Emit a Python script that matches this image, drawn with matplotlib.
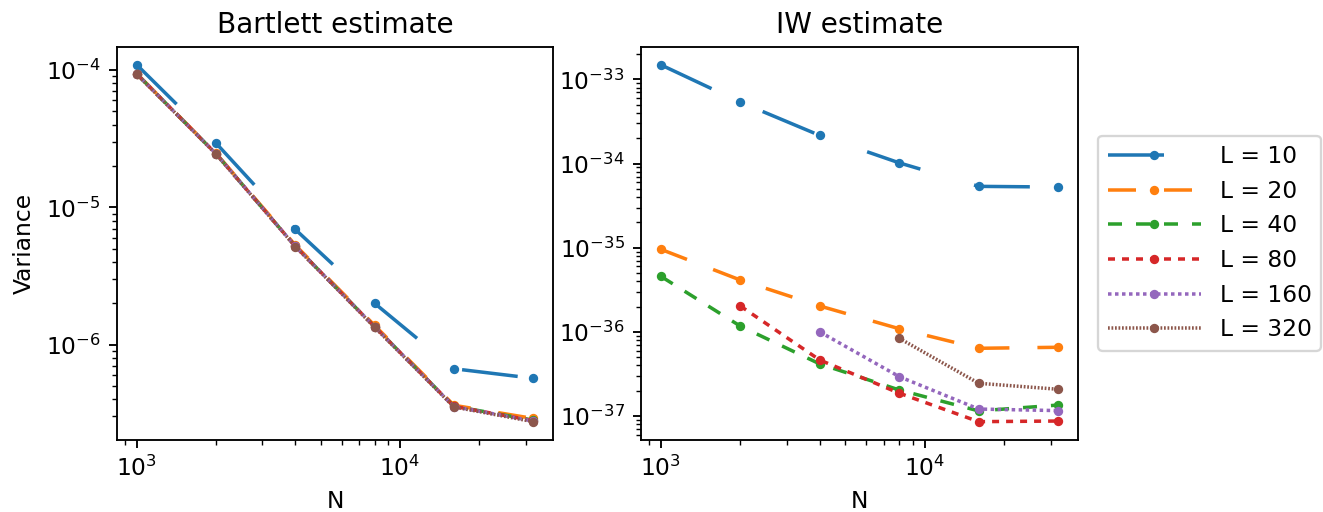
import numpy as np
import matplotlib
matplotlib.use("Agg")
import matplotlib.pyplot as plt

# 样本长度 N 和窗口参数 L
N = [1000, 2000, 4000, 8000, 16000, 32000]
L_values = [10, 20, 40, 80, 160, 320]

# Bartlett 估计的方差
bartlett_L10 = [1.09e-4, 2.93e-5, 6.9e-6, 2.0e-6, 6.68e-7, 5.69e-7]
bartlett_L20 = [9.4e-5, 2.47e-5, 5.3e-6, 1.38e-6, 3.62e-7, 2.9e-7]
bartlett_L40 = [9.35e-5, 2.45e-5, 5.2e-6, 1.35e-6, 3.56e-7, 2.82e-7]
bartlett_L80 = [9.35e-5, 2.45e-5, 5.2e-6, 1.35e-6, 3.55e-7, 2.8e-7]
bartlett_L160 = [9.35e-5, 2.45e-5, 5.2e-6, 1.35e-6, 3.54e-7, 2.78e-7]
bartlett_L320 = [9.33e-5, 2.44e-5, 5.18e-6, 1.34e-6, 3.52e-7, 2.75e-7]

# IW 估计的方差（缺失值用 nan）
iw_L10 = [1.49e-33, 5.37e-34, 2.16e-34, 1.02e-34, 5.36e-35, 5.26e-35]
iw_L20 = [9.57e-36, 4.13e-36, 2.03e-36, 1.09e-36, 6.38e-37, 6.56e-37]
iw_L40 = [4.57e-36, 1.17e-36, 4.16e-37, 2.04e-37, 1.15e-37, 1.35e-37]
iw_L80 = [np.nan, 2.03e-36, 4.63e-37, 1.87e-37, 8.57e-38, 8.72e-38]
iw_L160 = [np.nan, np.nan, 1.0e-36, 2.94e-37, 1.21e-37, 1.16e-37]
iw_L320 = [np.nan, np.nan, np.nan, 8.39e-37, 2.45e-37, 2.08e-37]

bartlett = [bartlett_L10, bartlett_L20, bartlett_L40, bartlett_L80, bartlett_L160, bartlett_L320]
iw = [iw_L10, iw_L20, iw_L40, iw_L80, iw_L160, iw_L320]

DPI = 168


def draw(ax, series, title):
    for i, (L, y) in enumerate(zip(L_values, series)):
        d = 160 / L  # 虚线长度随 L 变短
        ax.plot(N, y, marker='o', markersize=3, color='C%d' % i,
                linestyle=(0, (d, d)), label='L = %d' % L)
    ax.set_xscale('log')
    ax.set_yscale('log')
    ax.set_title(title, fontsize=12)
    ax.set_xlabel('N')


fig = plt.figure(figsize=(1323 / DPI, 512 / DPI), dpi=DPI)
ax1 = fig.add_axes([0.0884, 0.1416, 0.3296, 0.7666])
ax2 = fig.add_axes([0.4845, 0.1416, 0.3303, 0.7666])

draw(ax1, bartlett, 'Bartlett estimate')
ax1.set_ylabel('Variance')
draw(ax2, iw, 'IW estimate')

ax2.legend(loc='center left', bbox_to_anchor=(1.02, 0.5), handlelength=4.0)

fig.savefig('out.png', dpi=DPI)
